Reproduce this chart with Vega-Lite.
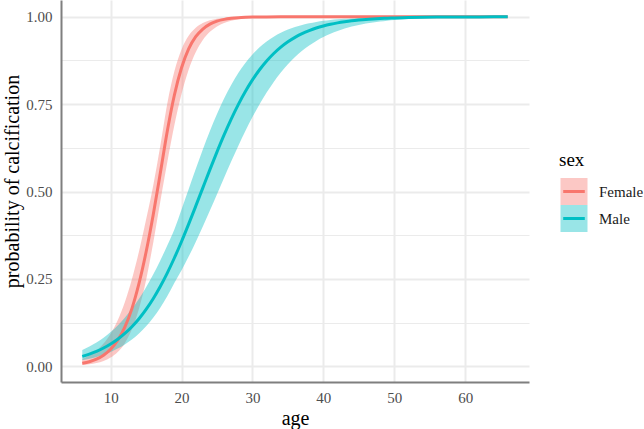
{
  "$schema": "https://vega.github.io/schema/vega-lite/v6.json",
  "width": 468,
  "height": 382,
  "autosize": {"type": "none"},
  "padding": {"left": 61, "top": 0, "right": 115, "bottom": 47},
  "background": "white",
  "data": {
    "values": [
      {"sex": "Female", "age": 6, "p": 0.0084, "lo": 0.0033, "hi": 0.0212},
      {"sex": "Female", "age": 7, "p": 0.0131, "lo": 0.0055, "hi": 0.0309},
      {"sex": "Female", "age": 8, "p": 0.0205, "lo": 0.0091, "hi": 0.0450},
      {"sex": "Female", "age": 9, "p": 0.0317, "lo": 0.0151, "hi": 0.0651},
      {"sex": "Female", "age": 10, "p": 0.0488, "lo": 0.0249, "hi": 0.0933},
      {"sex": "Female", "age": 11, "p": 0.0744, "lo": 0.0408, "hi": 0.1319},
      {"sex": "Female", "age": 12, "p": 0.1120, "lo": 0.0662, "hi": 0.1833},
      {"sex": "Female", "age": 13, "p": 0.1650, "lo": 0.1056, "hi": 0.2490},
      {"sex": "Female", "age": 14, "p": 0.2370, "lo": 0.1644, "hi": 0.3287},
      {"sex": "Female", "age": 15, "p": 0.3270, "lo": 0.2467, "hi": 0.4197},
      {"sex": "Female", "age": 16, "p": 0.4330, "lo": 0.3530, "hi": 0.5165},
      {"sex": "Female", "age": 17, "p": 0.5520, "lo": 0.4710, "hi": 0.6300},
      {"sex": "Female", "age": 18, "p": 0.6740, "lo": 0.5852, "hi": 0.7525},
      {"sex": "Female", "age": 19, "p": 0.7770, "lo": 0.6908, "hi": 0.8445},
      {"sex": "Female", "age": 20, "p": 0.8540, "lo": 0.7797, "hi": 0.9065},
      {"sex": "Female", "age": 21, "p": 0.9080, "lo": 0.8486, "hi": 0.9455},
      {"sex": "Female", "age": 22, "p": 0.9430, "lo": 0.8988, "hi": 0.9687},
      {"sex": "Female", "age": 23, "p": 0.9650, "lo": 0.9336, "hi": 0.9822},
      {"sex": "Female", "age": 24, "p": 0.9790, "lo": 0.9570, "hi": 0.9900},
      {"sex": "Female", "age": 25, "p": 0.9875, "lo": 0.9725, "hi": 0.9944},
      {"sex": "Female", "age": 26, "p": 0.9925, "lo": 0.9824, "hi": 0.9968},
      {"sex": "Female", "age": 27, "p": 0.9955, "lo": 0.9888, "hi": 0.9982},
      {"sex": "Female", "age": 28, "p": 0.9973, "lo": 0.9929, "hi": 0.9990},
      {"sex": "Female", "age": 29, "p": 0.9984, "lo": 0.9955, "hi": 0.9994},
      {"sex": "Female", "age": 30, "p": 0.9991, "lo": 0.9972, "hi": 0.9997},
      {"sex": "Female", "age": 32, "p": 0.9997, "lo": 0.9989, "hi": 0.9999},
      {"sex": "Female", "age": 34, "p": 0.9999, "lo": 0.9996, "hi": 1.0},
      {"sex": "Female", "age": 36, "p": 1.0, "lo": 0.9998, "hi": 1.0},
      {"sex": "Female", "age": 38, "p": 1.0, "lo": 0.9999, "hi": 1.0},
      {"sex": "Female", "age": 40, "p": 1.0, "lo": 1.0, "hi": 1.0},
      {"sex": "Female", "age": 45, "p": 1.0, "lo": 1.0, "hi": 1.0},
      {"sex": "Female", "age": 50, "p": 1.0, "lo": 1.0, "hi": 1.0},
      {"sex": "Female", "age": 55, "p": 1.0, "lo": 1.0, "hi": 1.0},
      {"sex": "Female", "age": 60, "p": 1.0, "lo": 1.0, "hi": 1.0},
      {"sex": "Female", "age": 66, "p": 1.0, "lo": 1.0, "hi": 1.0},
      {"sex": "Male", "age": 6, "p": 0.0285, "lo": 0.0172, "hi": 0.0469},
      {"sex": "Male", "age": 7, "p": 0.0350, "lo": 0.0214, "hi": 0.0566},
      {"sex": "Male", "age": 8, "p": 0.0428, "lo": 0.0266, "hi": 0.0681},
      {"sex": "Male", "age": 9, "p": 0.0523, "lo": 0.0330, "hi": 0.0818},
      {"sex": "Male", "age": 10, "p": 0.0637, "lo": 0.0408, "hi": 0.0980},
      {"sex": "Male", "age": 11, "p": 0.0774, "lo": 0.0505, "hi": 0.1169},
      {"sex": "Male", "age": 12, "p": 0.0938, "lo": 0.0623, "hi": 0.1390},
      {"sex": "Male", "age": 13, "p": 0.1133, "lo": 0.0766, "hi": 0.1644},
      {"sex": "Male", "age": 14, "p": 0.1361, "lo": 0.0938, "hi": 0.1934},
      {"sex": "Male", "age": 15, "p": 0.1627, "lo": 0.1144, "hi": 0.2262},
      {"sex": "Male", "age": 16, "p": 0.1934, "lo": 0.1390, "hi": 0.2627},
      {"sex": "Male", "age": 17, "p": 0.2283, "lo": 0.1677, "hi": 0.3028},
      {"sex": "Male", "age": 18, "p": 0.2674, "lo": 0.2010, "hi": 0.3461},
      {"sex": "Male", "age": 19, "p": 0.3105, "lo": 0.2390, "hi": 0.3922},
      {"sex": "Male", "age": 20, "p": 0.3571, "lo": 0.2749, "hi": 0.4487},
      {"sex": "Male", "age": 21, "p": 0.4066, "lo": 0.3139, "hi": 0.5065},
      {"sex": "Male", "age": 22, "p": 0.4581, "lo": 0.3557, "hi": 0.5641},
      {"sex": "Male", "age": 23, "p": 0.5105, "lo": 0.3999, "hi": 0.6201},
      {"sex": "Male", "age": 24, "p": 0.5627, "lo": 0.4457, "hi": 0.6730},
      {"sex": "Male", "age": 25, "p": 0.6135, "lo": 0.4925, "hi": 0.7219},
      {"sex": "Male", "age": 26, "p": 0.6620, "lo": 0.5394, "hi": 0.7661},
      {"sex": "Male", "age": 27, "p": 0.7073, "lo": 0.5856, "hi": 0.8050},
      {"sex": "Male", "age": 28, "p": 0.7488, "lo": 0.6304, "hi": 0.8389},
      {"sex": "Male", "age": 29, "p": 0.7862, "lo": 0.6730, "hi": 0.8678},
      {"sex": "Male", "age": 30, "p": 0.8193, "lo": 0.7130, "hi": 0.8922},
      {"sex": "Male", "age": 31, "p": 0.8484, "lo": 0.7499, "hi": 0.9126},
      {"sex": "Male", "age": 32, "p": 0.8734, "lo": 0.7834, "hi": 0.9295},
      {"sex": "Male", "age": 33, "p": 0.8949, "lo": 0.8137, "hi": 0.9432},
      {"sex": "Male", "age": 34, "p": 0.9131, "lo": 0.8405, "hi": 0.9545},
      {"sex": "Male", "age": 35, "p": 0.9284, "lo": 0.8641, "hi": 0.9635},
      {"sex": "Male", "age": 36, "p": 0.9412, "lo": 0.8847, "hi": 0.9709},
      {"sex": "Male", "age": 37, "p": 0.9518, "lo": 0.9025, "hi": 0.9768},
      {"sex": "Male", "age": 38, "p": 0.9605, "lo": 0.9178, "hi": 0.9815},
      {"sex": "Male", "age": 39, "p": 0.9678, "lo": 0.9310, "hi": 0.9853},
      {"sex": "Male", "age": 40, "p": 0.9737, "lo": 0.9421, "hi": 0.9883},
      {"sex": "Male", "age": 41, "p": 0.9786, "lo": 0.9516, "hi": 0.9907},
      {"sex": "Male", "age": 42, "p": 0.9826, "lo": 0.9595, "hi": 0.9926},
      {"sex": "Male", "age": 43, "p": 0.9858, "lo": 0.9663, "hi": 0.9941},
      {"sex": "Male", "age": 44, "p": 0.9885, "lo": 0.9719, "hi": 0.9953},
      {"sex": "Male", "age": 45, "p": 0.9906, "lo": 0.9766, "hi": 0.9963},
      {"sex": "Male", "age": 46, "p": 0.9924, "lo": 0.9805, "hi": 0.9971},
      {"sex": "Male", "age": 47, "p": 0.9938, "lo": 0.9838, "hi": 0.9977},
      {"sex": "Male", "age": 48, "p": 0.9950, "lo": 0.9865, "hi": 0.9981},
      {"sex": "Male", "age": 49, "p": 0.9959, "lo": 0.9888, "hi": 0.9985},
      {"sex": "Male", "age": 50, "p": 0.9967, "lo": 0.9907, "hi": 0.9988},
      {"sex": "Male", "age": 52, "p": 0.9978, "lo": 0.9936, "hi": 0.9993},
      {"sex": "Male", "age": 54, "p": 0.9986, "lo": 0.9956, "hi": 0.9995},
      {"sex": "Male", "age": 56, "p": 0.9991, "lo": 0.9970, "hi": 0.9997},
      {"sex": "Male", "age": 58, "p": 0.9994, "lo": 0.9979, "hi": 0.9998},
      {"sex": "Male", "age": 60, "p": 0.9996, "lo": 0.9986, "hi": 0.9999},
      {"sex": "Male", "age": 62, "p": 0.9997, "lo": 0.9990, "hi": 0.9999},
      {"sex": "Male", "age": 64, "p": 0.9998, "lo": 0.9993, "hi": 1.0},
      {"sex": "Male", "age": 66, "p": 0.9999, "lo": 0.9995, "hi": 1.0}
    ]
  },
  "encoding": {
    "x": {
      "field": "age",
      "type": "quantitative",
      "title": "age",
      "scale": {"domain": [3, 69], "nice": false, "zero": false},
      "axis": {"values": [10, 20, 30, 40, 50, 60], "gridWidth": 2, "labelPadding": 8, "titlePadding": 3}
    }
  },
  "layer": [
    {
      "mark": {"type": "area", "interpolate": "monotone"},
      "encoding": {
        "y": {
          "field": "lo",
          "type": "quantitative",
          "title": "probability of calcification",
          "scale": {"domain": [-0.045, 1.048], "nice": false, "zero": false},
          "axis": {
            "values": [0, 0.125, 0.25, 0.375, 0.5, 0.625, 0.75, 0.875, 1],
            "labelExpr": "datum.value % 0.25 === 0 ? format(datum.value, '.2f') : ''",
            "gridWidth": {"condition": {"test": "datum.value % 0.25 === 0", "value": 2}, "value": 1},
            "labelPadding": 9,
            "titlePadding": 3,
            "titleY": 181
          }
        },
        "y2": {"field": "hi"},
        "fill": {
          "field": "sex",
          "type": "nominal",
          "scale": {"domain": ["Female", "Male"], "range": ["rgba(248,118,109,0.4)", "rgba(0,191,196,0.4)"]},
          "legend": {"title": "sex", "orient": "none", "legendX": 498, "legendY": 151}
        }
      }
    },
    {
      "mark": {"type": "line", "interpolate": "monotone", "strokeWidth": 3},
      "encoding": {
        "y": {"field": "p", "type": "quantitative", "title": "probability of calcification"},
        "stroke": {
          "field": "sex",
          "type": "nominal",
          "scale": {"domain": ["Female", "Male"], "range": ["#F8766D", "#00BFC4"]},
          "legend": {"title": "sex", "orient": "none", "legendX": 498, "legendY": 151}
        }
      }
    }
  ],
  "config": {
    "view": {"stroke": null},
    "font": "Liberation Serif",
    "axis": {
      "domainColor": "#7F7F7F",
      "domainWidth": 2,
      "ticks": false,
      "gridColor": "#EBEBEB",
      "labelFont": "Liberation Serif",
      "labelFontSize": 15,
      "labelColor": "#4D4D4D",
      "titleFont": "Liberation Serif",
      "titleFontSize": 20,
      "titleFontWeight": "normal",
      "titleColor": "#000000"
    },
    "legend": {
      "symbolType": "M-0.8,0H0.8H1V1H-1V-1H1V0Z",
      "symbolSize": 729,
      "symbolStrokeWidth": 3,
      "symbolDash": [21.6, 400],
      "symbolOpacity": 1,
      "clipHeight": 27,
      "rowPadding": 0,
      "labelOffset": 10,
      "labelFont": "Liberation Serif",
      "labelFontSize": 15,
      "labelColor": "#1A1A1A",
      "titleFont": "Liberation Serif",
      "titleFontSize": 19,
      "titleFontWeight": "normal",
      "titleColor": "#000000",
      "titlePadding": 8
    }
  }
}
